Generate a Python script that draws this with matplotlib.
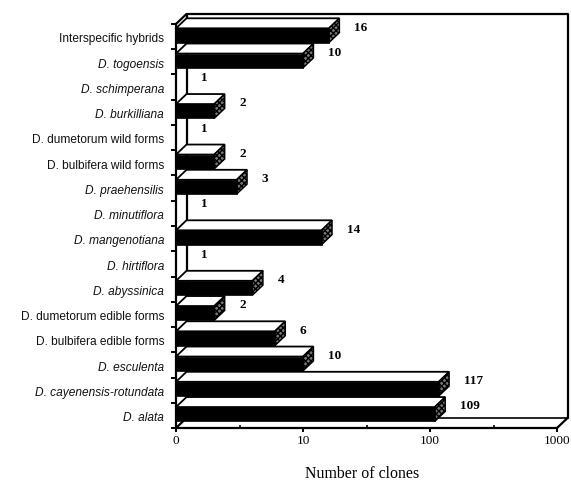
import matplotlib
matplotlib.use("Agg")
import matplotlib.pyplot as plt
from matplotlib.patches import Polygon
from matplotlib.ticker import NullFormatter

categories = [
    "D. alata", "D. cayenensis-rotundata", "D. esculenta",
    "D. bulbifera edible forms", "D. dumetorum edible forms", "D. abyssinica",
    "D. hirtiflora", "D. mangenotiana", "D. minutiflora", "D. praehensilis",
    "D. bulbifera wild forms", "D. dumetorum wild forms", "D. burkilliana",
    "D. schimperana", "D. togoensis", "Interspecific hybrids",
]
clones = [109, 117, 10, 6, 2, 4, 1, 14, 1, 3, 2, 1, 2, 1, 10, 16]
upright = ["D. bulbifera edible forms", "D. dumetorum edible forms",
           "D. bulbifera wild forms", "D. dumetorum wild forms",
           "Interspecific hybrids"]
x_ticks = [1, 10, 100, 1000]
x_tick_labels = ["0", "10", "100", "1000"]

SANS = "Liberation Sans"
SERIF = "Liberation Serif"
W, H = 571, 482
# 3d look: depth of the box is about 10 px, one decade is 127 px, one category 25.25 px
DX = 10 ** (10.5 / 127)
DY = 10 / 25.25
BAR_LOW, BAR_HIGH = 0.26, 0.83

fig = plt.figure(figsize=(W / 100, H / 100), dpi=100)
ax = fig.add_axes([176 / W, 1 - 428 / H, 381 / W, 404 / H])
ax.set_xscale("log")
ax.set_xlim(1, 1000)
ax.set_ylim(0, len(categories))


def outline(xs, ys, lw=1.6):
    ax.plot(xs, ys, color="black", lw=lw, clip_on=False, zorder=1,
            solid_capstyle="round")


n = len(categories)
# back wall and floor of the box
outline([DX, DX, 1000 * DX, 1000 * DX], [0 + DY, n + DY, n + DY, 0 + DY])
outline([DX, 1000 * DX], [DY, DY], lw=1.2)
outline([1, DX], [0, DY])
outline([1000, 1000 * DX], [0, DY])
outline([1, DX], [n, n + DY])

for i, v in enumerate(clones):
    if v > 1:
        top = Polygon([(1, i + BAR_HIGH), (v, i + BAR_HIGH),
                       (v * DX, i + BAR_HIGH + DY), (DX, i + BAR_HIGH + DY)],
                      facecolor="white", edgecolor="black", lw=1.3,
                      clip_on=False, zorder=2 + (n - i) * 0.01)
        side = Polygon([(v, i + BAR_LOW), (v, i + BAR_HIGH),
                        (v * DX, i + BAR_HIGH + DY), (v * DX, i + BAR_LOW + DY)],
                       facecolor="#777777", edgecolor="black", hatch="xxxxxx",
                       lw=1.0, clip_on=False, zorder=2 + (n - i) * 0.01)
        ax.add_patch(top)
        ax.add_patch(side)
    # the axis starts at 1 (labelled 0), so the bar runs from 1 up to the value
    ax.barh(i + (BAR_LOW + BAR_HIGH) / 2, v - 1, height=BAR_HIGH - BAR_LOW, left=1,
            color="black", edgecolor="black", lw=0.5, zorder=3)
    ax.annotate(str(v), xy=(v * DX, i + 0.5), xytext=(10.5, 6.5),
                textcoords="offset points", family=SERIF, weight="bold",
                fontsize=9.5, ha="left", va="center", annotation_clip=False)

ax.spines["top"].set_visible(False)
ax.spines["right"].set_visible(False)
ax.spines["left"].set_linewidth(1.6)
ax.spines["bottom"].set_linewidth(1.6)

ax.set_xticks(x_ticks)
ax.set_xticklabels(x_tick_labels, family=SERIF, fontsize=9.5)
ax.set_xticks([10 ** 0.5, 10 ** 1.5, 10 ** 2.5], minor=True)
ax.xaxis.set_minor_formatter(NullFormatter())
ax.tick_params(axis="x", which="major", length=3, width=1.4, pad=2)
ax.tick_params(axis="x", which="minor", length=2, width=1.2, direction="in")

# ticks sit between the categories, labels in the middle
ax.set_yticks(range(n + 1))
ax.set_yticklabels([])
ax.tick_params(axis="y", length=3.5, width=1.4)
for i, name in enumerate(categories):
    ax.annotate(name, xy=(0, i + 0.5), xycoords=("axes fraction", "data"),
                xytext=(-8.5, -2), textcoords="offset points", family=SANS,
                fontsize=8.6, ha="right", va="center", color="#111111",
                style="normal" if name in upright else "italic",
                annotation_clip=False)

ax.set_xlabel("Number of clones", family=SERIF, fontsize=11.4, labelpad=13.5, x=0.488)

fig.savefig("out.png", dpi=100)
plt.close(fig)
